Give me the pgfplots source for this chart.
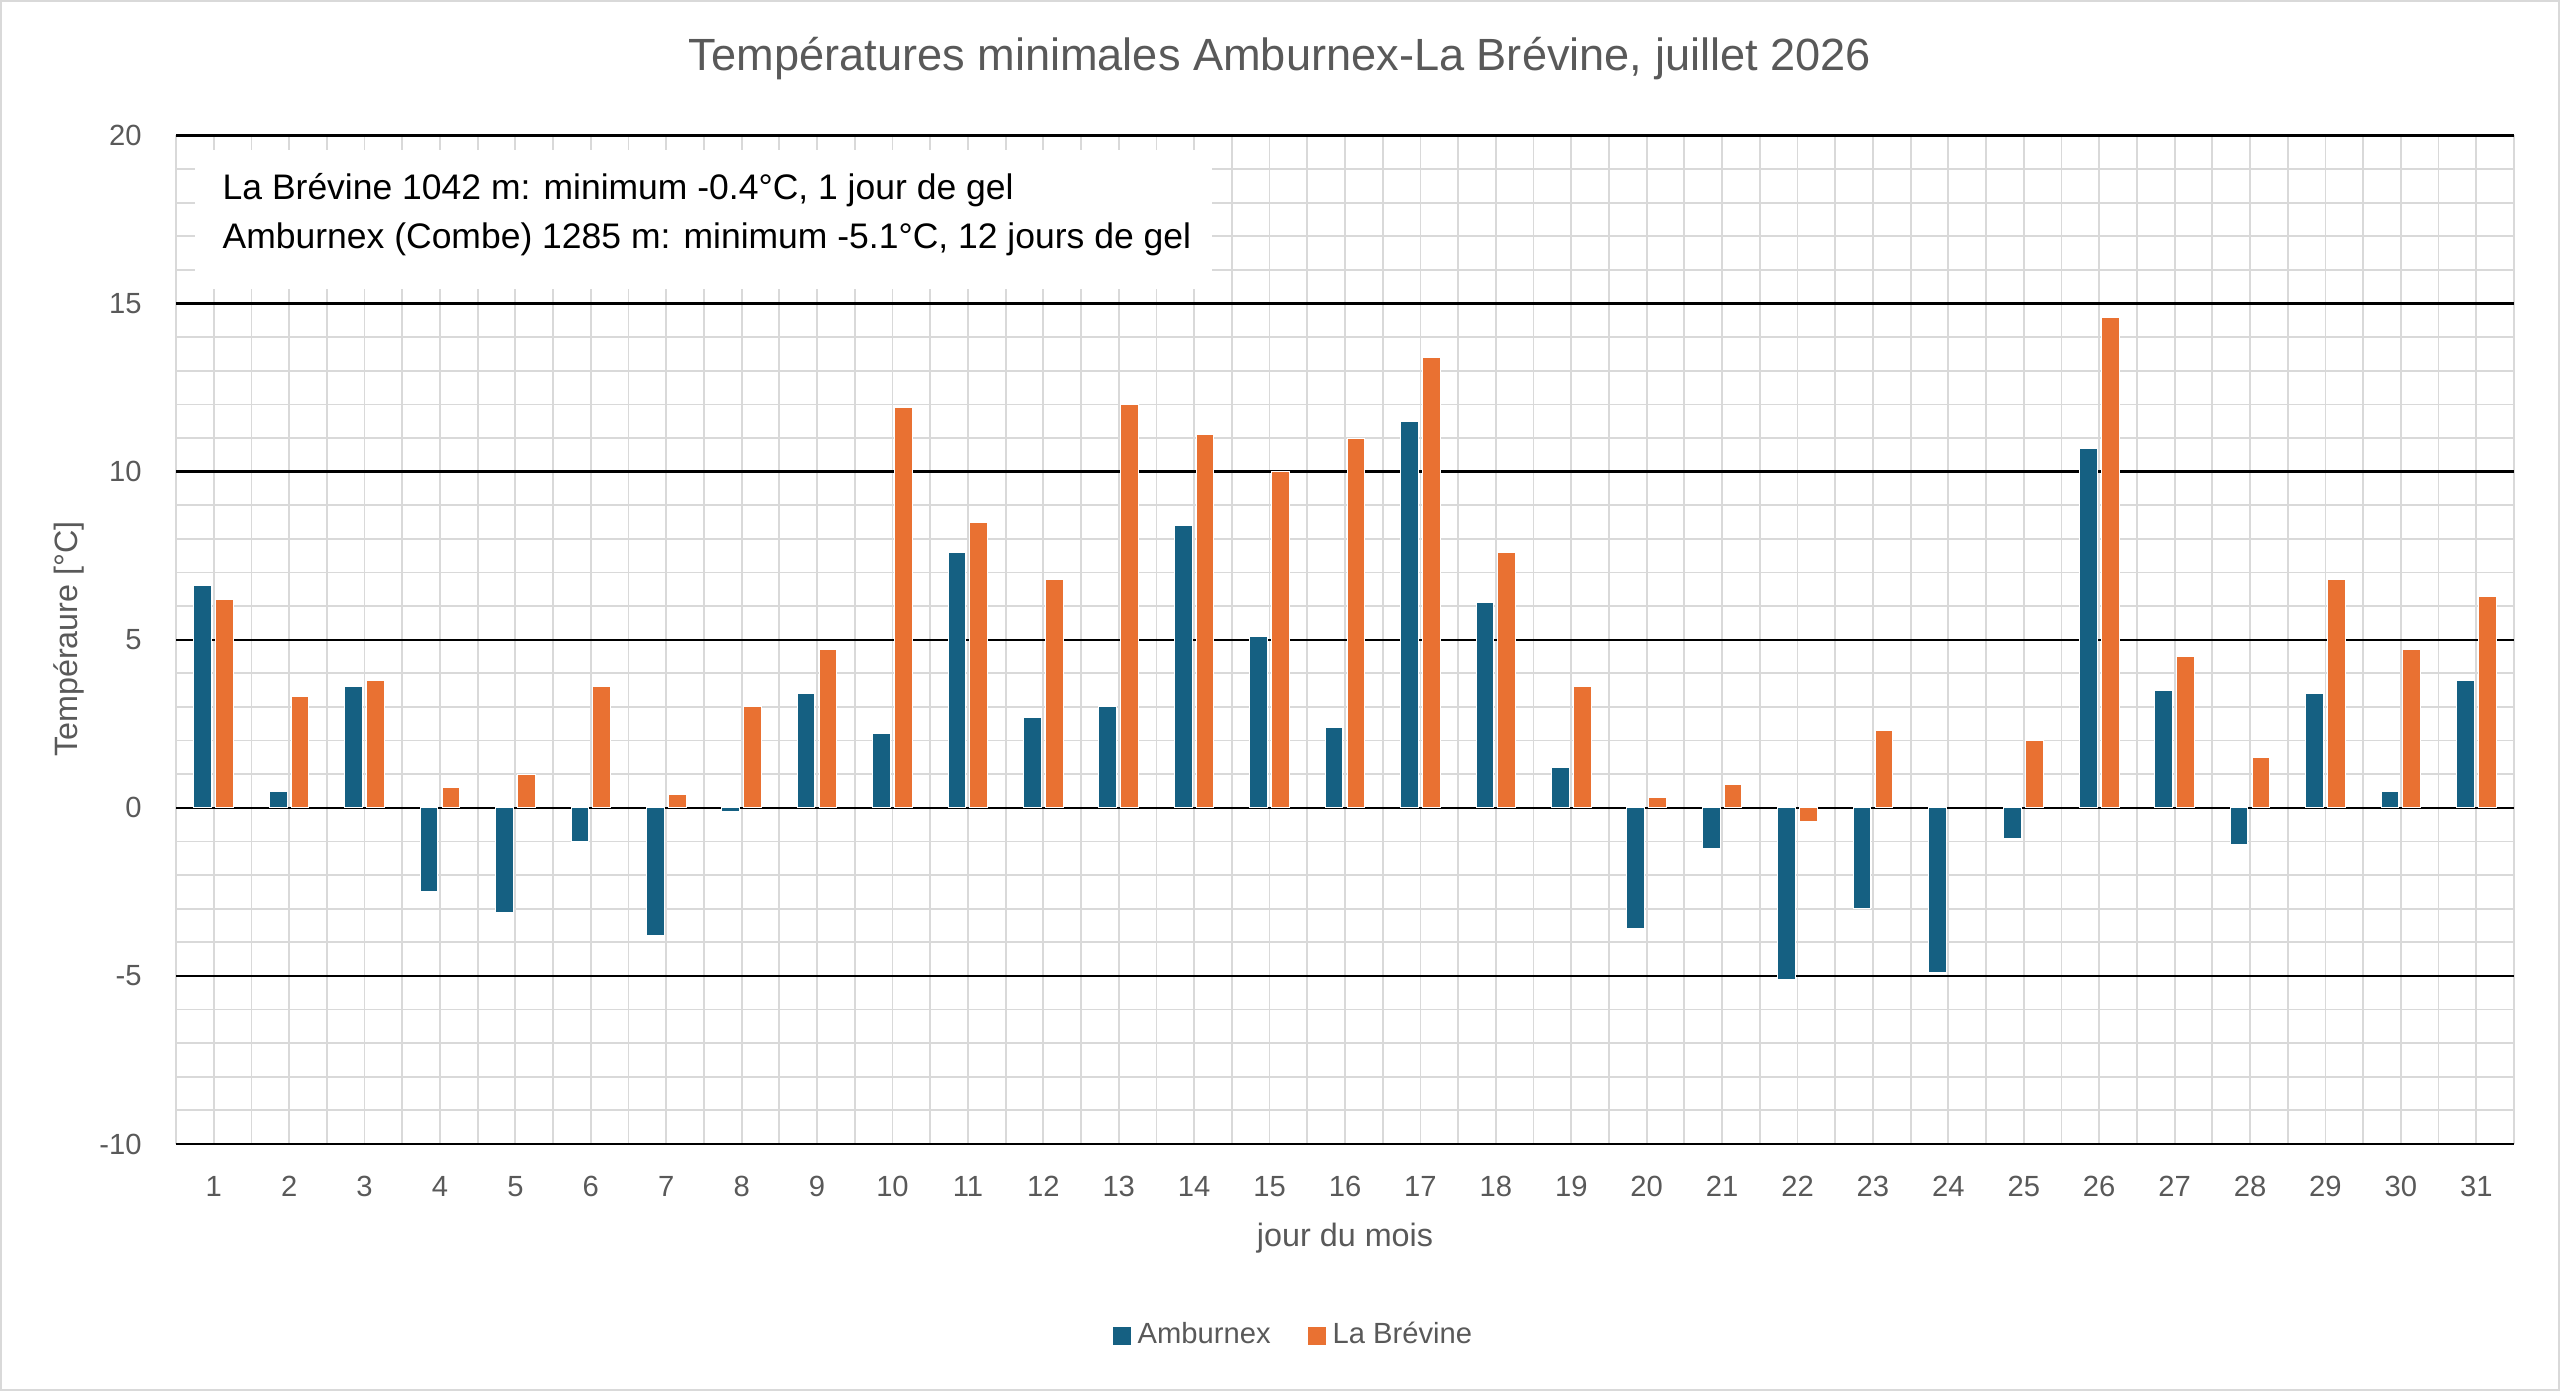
\documentclass[border=0pt]{standalone}
\usepackage{pgfplots}
\pgfplotsset{compat=1.18}
\usepackage{fontspec}
\setmainfont{Liberation Sans}
\definecolor{cblue}{HTML}{156082}
\definecolor{corange}{HTML}{E97132}
\definecolor{gridgray}{HTML}{D9D9D9}
\definecolor{textgray}{HTML}{595959}
\pgfplotsset{sqleg/.style={legend image code/.code={\fill[##1, draw=none] (0mm,-0.9mm) rectangle (1.8mm,0.9mm);}}}
\begin{document}
\begin{tikzpicture}
\path[use as bounding box] (0,0) rectangle (256mm,139.1mm);
\draw[gridgray, line width=0.2mm] (0.1mm,0.1mm) rectangle (255.9mm,139mm);
\node[anchor=center, text=textgray, font=\fontsize{12.85}{15}\selectfont] at (128mm,133.2mm) {Températures minimales Amburnex-La Brévine, juillet 2026};
\node[anchor=center, text=textgray, font=\fontsize{9.2}{11}\selectfont] at (134.5mm,15.3mm) {jour du mois};
\node[anchor=center, rotate=90, text=textgray, font=\fontsize{9.2}{11}\selectfont] at (6.9mm,75.2mm) {Tempéraure [°C]};
\begin{axis}[
  at={(17.6mm,24.7mm)}, anchor=south west,
  width=233.8mm, height=100.85mm, scale only axis,
  xmin=0.5, xmax=31.5, ymin=-10, ymax=20,
  axis line style={draw=none},
  xtick={1,...,31},
  xticklabels={1,2,3,4,5,6,7,8,9,10,11,12,13,14,15,16,17,18,19,20,21,22,23,24,25,26,27,28,29,30,31},
  minor xtick={0.5,1.5,...,31.5},
  ytick={-10,-5,0,5,10,15,20},
  yticklabels={-10,-5,0,5,10,15,20},
  minor ytick={-9,-8,-7,-6,-4,-3,-2,-1,1,2,3,4,6,7,8,9,11,12,13,14,16,17,18,19},
  major tick length=0pt, minor tick length=0pt,
  xmajorgrids, xminorgrids, ymajorgrids, yminorgrids,
  major x grid style={gridgray, line width=0.18mm},
  minor x grid style={gridgray, line width=0.18mm},
  minor y grid style={gridgray, line width=0.18mm},
  major y grid style={black, line width=0.24mm},
  ticklabel style={text=textgray, font=\fontsize{8.3}{10}\selectfont},
  xticklabel style={yshift=-2.0mm},
  yticklabel style={xshift=-2.2mm},
  ybar, bar width=0.235,
  legend style={at={(0.479,-0.19)}, anchor=center, draw=none, fill=none,
    legend columns=2, font=\fontsize{8.3}{10}\selectfont, text=textgray,
    /tikz/every even column/.append style={column sep=3.0mm}},
]
\addplot[fill=cblue, draw=white, line width=0.1mm, bar shift=-0.145, sqleg]
  coordinates {(1,6.6) (2,0.5) (3,3.6) (4,-2.5) (5,-3.1) (6,-1.0) (7,-3.8) (8,-0.1) (9,3.4) (10,2.2) (11,7.6) (12,2.7) (13,3.0) (14,8.4) (15,5.1) (16,2.4) (17,11.5) (18,6.1) (19,1.2) (20,-3.6) (21,-1.2) (22,-5.1) (23,-3.0) (24,-4.9) (25,-0.9) (26,10.7) (27,3.5) (28,-1.1) (29,3.4) (30,0.5) (31,3.8)};
\addlegendentry{Amburnex}
\addplot[fill=corange, draw=white, line width=0.1mm, bar shift=0.145, sqleg]
  coordinates {(1,6.2) (2,3.3) (3,3.8) (4,0.6) (5,1.0) (6,3.6) (7,0.4) (8,3.0) (9,4.7) (10,11.9) (11,8.5) (12,6.8) (13,12.0) (14,11.1) (15,10.0) (16,11.0) (17,13.4) (18,7.6) (19,3.6) (20,0.3) (21,0.7) (22,-0.4) (23,2.3) (25,2.0) (26,14.6) (27,4.5) (28,1.5) (29,6.8) (30,4.7) (31,6.3)};
\addlegendentry{La Brévine}
\fill[white] (axis cs:0.75,15.43) rectangle (axis cs:14.23,19.57);
\node[anchor=base west, inner sep=0pt, font=\fontsize{10.1}{12}\selectfont] at (axis cs:1.11,18.11) {La Brévine 1042 m: minimum -0.4°C, 1 jour de gel};
\node[anchor=base west, inner sep=0pt, font=\fontsize{10.1}{12}\selectfont] at (axis cs:1.11,16.65) {Amburnex (Combe) 1285 m: minimum -5.1°C, 12 jours de gel};
\end{axis}
\end{tikzpicture}
\end{document}
